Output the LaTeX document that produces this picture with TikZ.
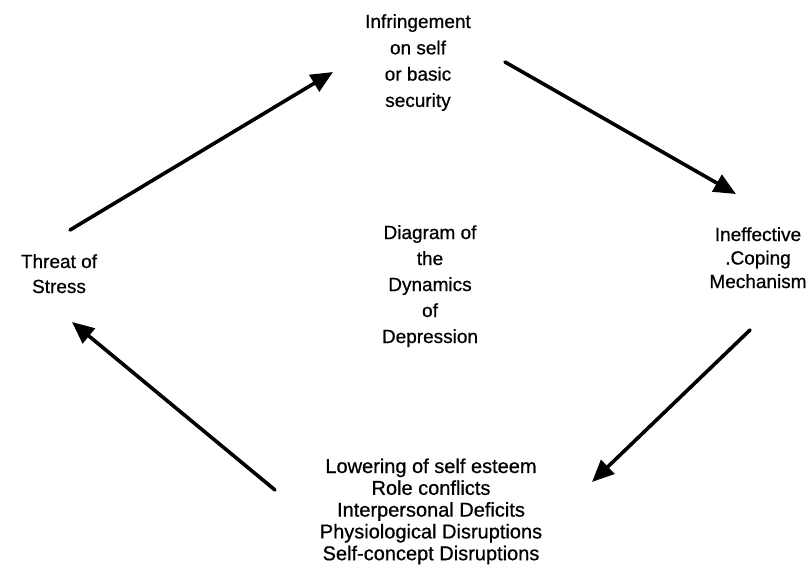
\documentclass[tikz,border=0pt]{standalone}
\usepackage{fontspec}
\setmainfont{Liberation Sans}[FakeBold=0.7]
\usetikzlibrary{arrows.meta}
\tikzset{
  lbl/.style={anchor=base, inner sep=0pt, outer sep=0pt},
  flow/.style={line width=3.6pt, line cap=round, -{Triangle[length=22pt,width=19pt]}}
}
\begin{document}
\begin{tikzpicture}[x=1pt,y=-1pt]
\useasboundingbox (0,0) rectangle (810,578);
% text nodes (anchored at baseline of first line)
\node[lbl] (infr) at (418,28) {\fontsize{19}{26.3}\selectfont\begin{tabular}[t]{@{}c@{}}Infringement\\on self\\or basic\\security\end{tabular}};
\node[lbl] (cope) at (758,241) {\fontsize{19}{23.5}\selectfont\begin{tabular}[t]{@{}c@{}}Ineffective\\.Coping\\Mechanism\end{tabular}};
\node[lbl] (threat) at (59,268) {\fontsize{19}{25}\selectfont\begin{tabular}[t]{@{}c@{}}Threat of\\Stress\end{tabular}};
\node[lbl] (title) at (430,239) {\fontsize{19}{26}\selectfont\begin{tabular}[t]{@{}c@{}}Diagram of\\the\\Dynamics\\of\\Depression\end{tabular}};
\node[lbl] (lower) at (431,473) {\fontsize{20}{21.8}\selectfont\begin{tabular}[t]{@{}c@{}}Lowering of self esteem\\Role conflicts\\Interpersonal Deficits\\Physiological Disruptions\\Self-concept Disruptions\end{tabular}};
% arrow end points
\coordinate (a1s) at (70,230);
\coordinate (a1e) at (333,72);
\coordinate (a2s) at (505,62);
\coordinate (a2e) at (736,194);
\coordinate (a3s) at (750,330);
\coordinate (a3e) at (592,482);
\coordinate (a4s) at (275,490);
\coordinate (a4e) at (72,322);
\draw[flow] (a1s) -- (a1e);
\draw[flow] (a2s) -- (a2e);
\draw[flow] (a3s) -- (a3e);
\draw[flow] (a4s) -- (a4e);
\end{tikzpicture}
\end{document}
